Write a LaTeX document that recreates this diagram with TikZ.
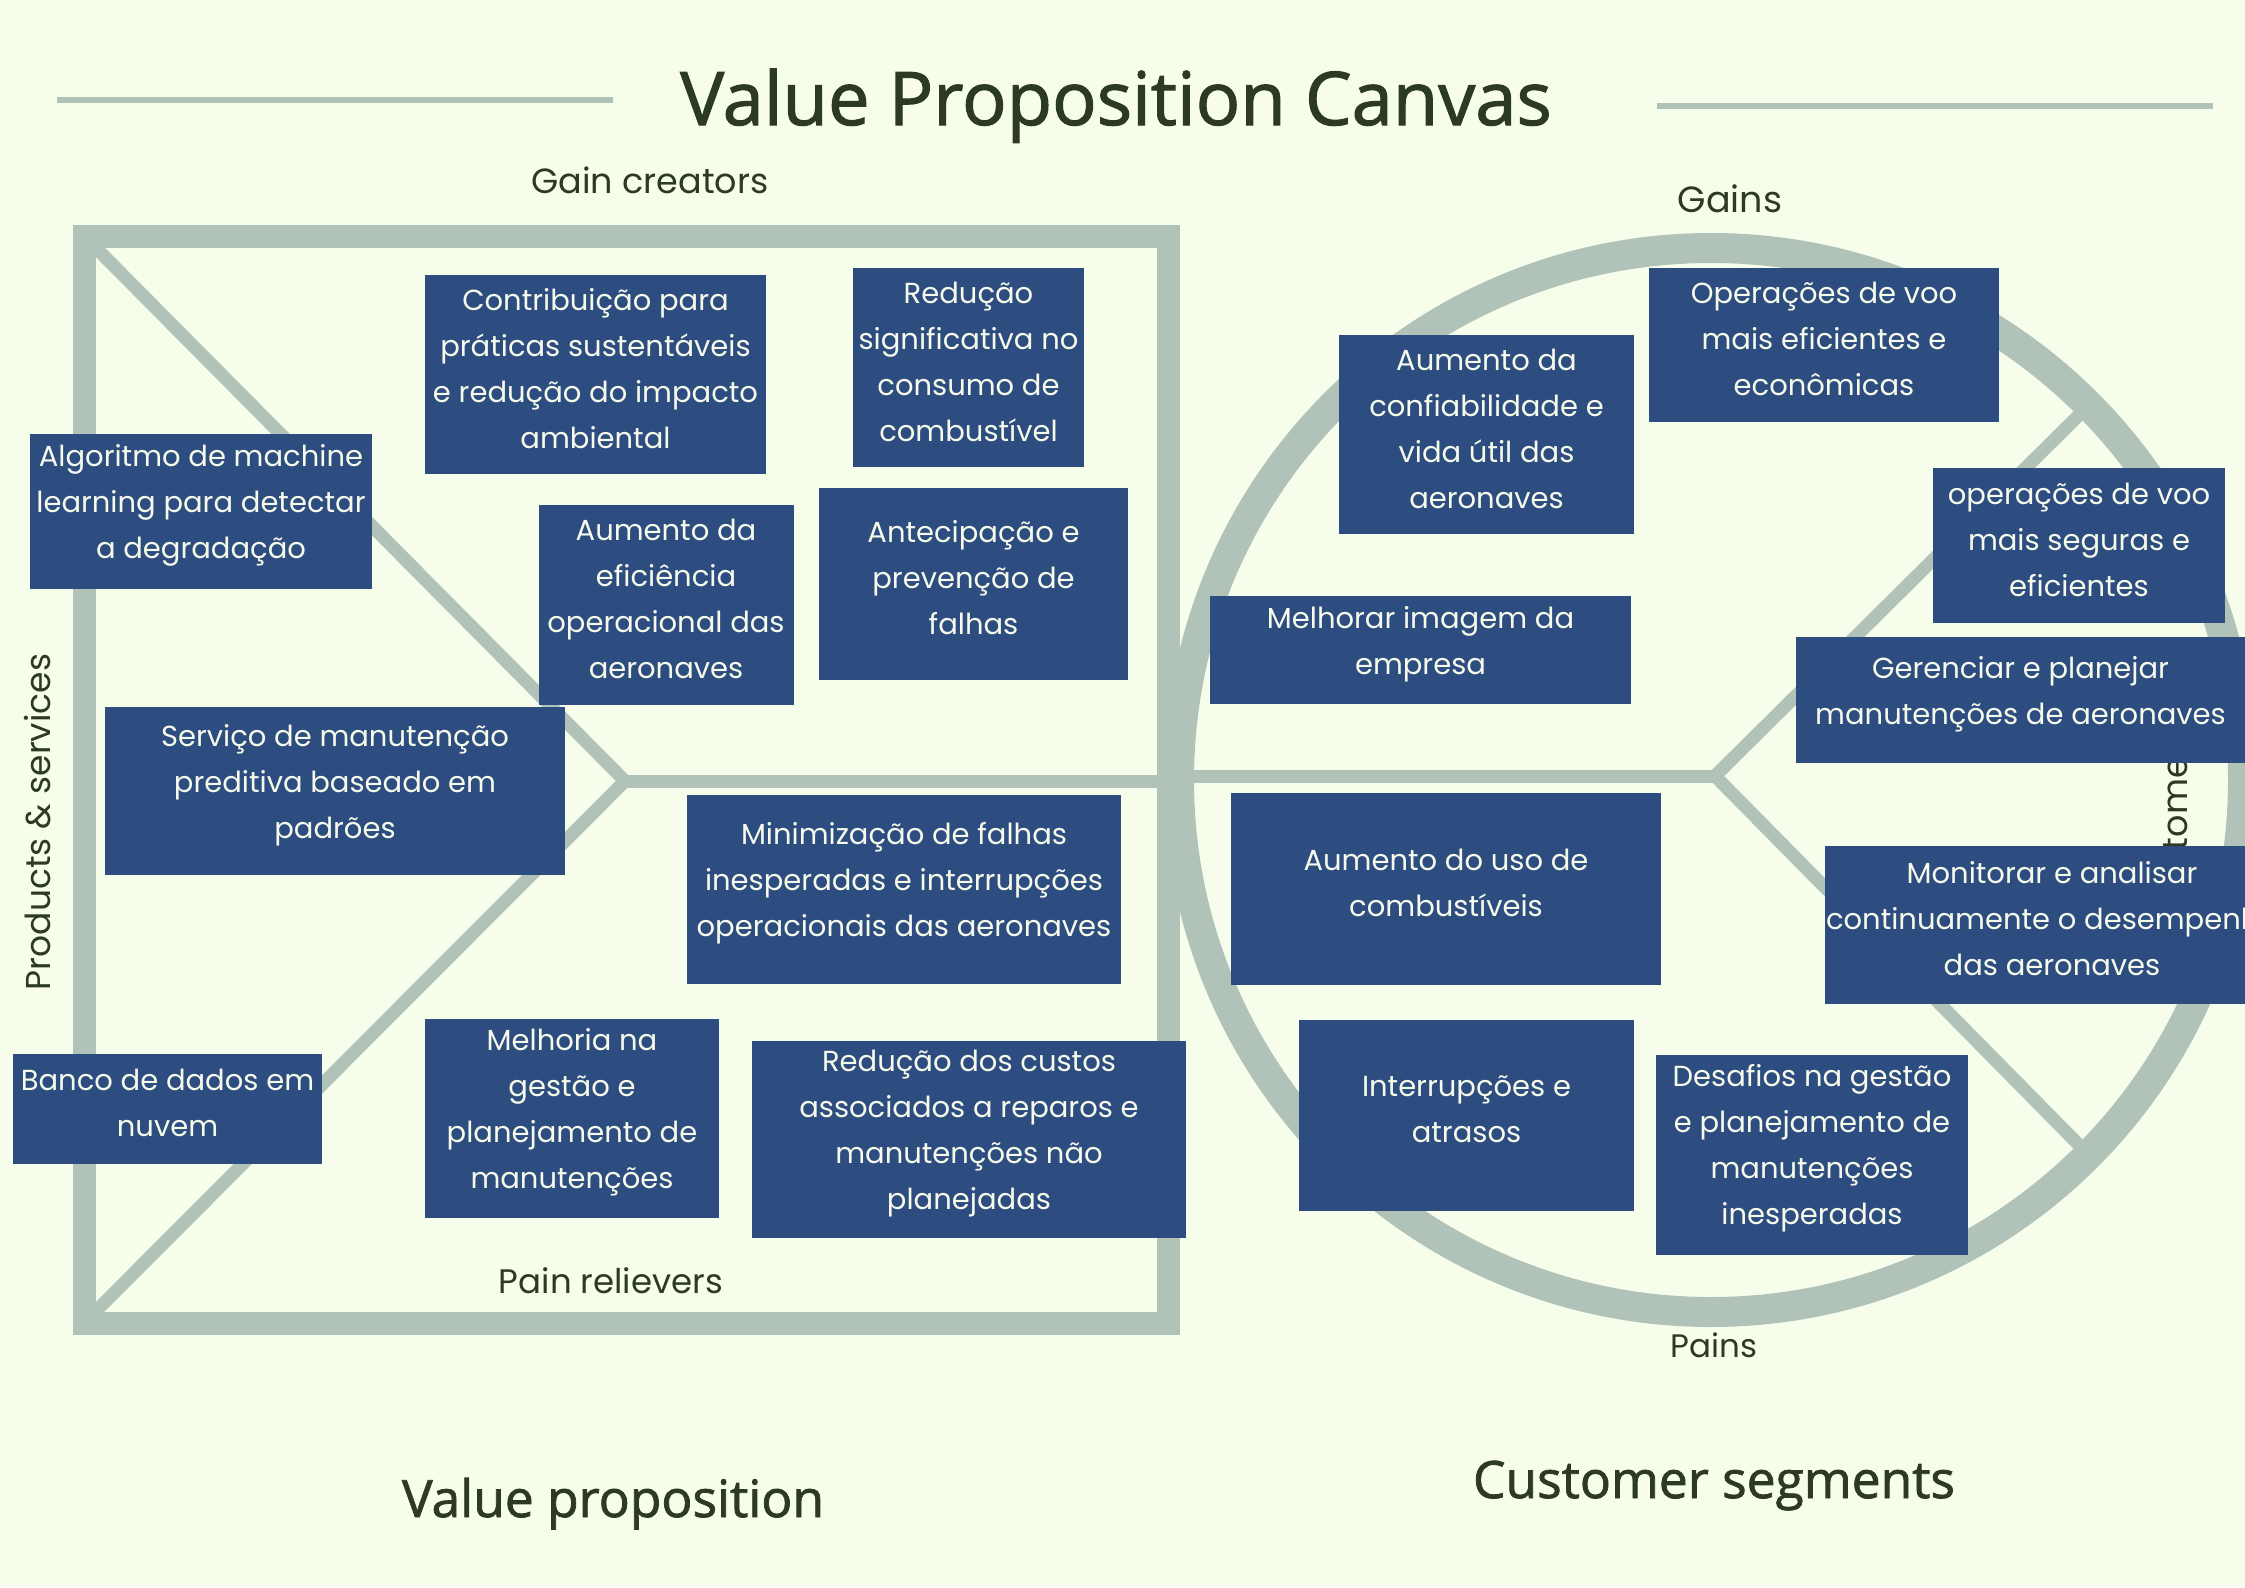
\documentclass[tikz,border=0pt]{standalone}
\usepackage{fontspec}
\setmainfont{Poppins}
\newfontfamily\headfont[FakeBold=1.5]{Open Sans}
\definecolor{bg}{HTML}{F6FDEB}
\definecolor{ln}{HTML}{B1C2B8}
\definecolor{bx}{HTML}{2D4C80}
\definecolor{bt}{HTML}{F5FAEA}
\definecolor{hd}{HTML}{2C3A25}
\newcommand\vpb[6]{%
  \node[vbox,minimum width=#4pt,minimum height=#5pt] (#1) at (#2,#3) {};
  \node[vtext] (#1t) at ([yshift=6pt]#1.center) {#6};}
\begin{document}
\begin{tikzpicture}[x=1pt,y=-1pt,
  vbox/.style={fill=bx,draw=none,inner sep=0pt,anchor=center},
  vtext/.style={text=bt,align=center,font=\fontsize{29}{46}\selectfont,inner sep=0pt},
  lbl/.style={text=hd,font=\fontsize{35}{40}\selectfont,inner sep=0pt,anchor=base},
  head/.style={text=hd,font=\headfont\fontsize{51.5}{60}\selectfont,inner sep=0pt,anchor=base},
  framebar/.style={draw=ln,line width=23pt},
  innerln/.style={draw=ln,line width=13pt},
  ringln/.style={draw=ln,line width=30pt},
  titleln/.style={draw=ln,line width=6pt},
]
\fill[bg] (0,0) rectangle (2245,1587);
\useasboundingbox (0,0) rectangle (2245,1587);
\clip (0,0) rectangle (2245,1587);

% title
\node[head,font=\headfont\fontsize{74}{86}\selectfont] (title) at (1116,125) {Value Proposition Canvas};
\coordinate (tla) at (57,100); \coordinate (tlb) at (613,100);
\coordinate (tra) at (1657,106); \coordinate (trb) at (2213,106);
\draw[titleln] (tla) -- (tlb);
\draw[titleln] (tra) -- (trb);

% value proposition square
\coordinate (sq1) at (84.5,236); \coordinate (sq2) at (1168.5,1323);
\draw[framebar] (sq1) rectangle (sq2);
\coordinate (cTL) at (96,248); \coordinate (apex) at (625,781); \coordinate (cBL) at (96,1311);
\coordinate (sqR) at (1168,781);
\draw[innerln,line join=miter] (cTL) -- (apex) -- (cBL);
\draw[innerln] (apex) -- (sqR);

% customer circle
\coordinate (cc) at (1711,780);
\draw[ringln] (cc) circle[radius=532pt];
\coordinate (cL) at (1179,776); \coordinate (jn) at (1715,776);
\coordinate (gEnd) at (2079,415); \coordinate (pEnd) at (2079,1145);
\draw[innerln] (cL) -- (jn);
\draw[innerln,line join=miter] (gEnd) -- (jn) -- (pEnd);

% labels
\node[lbl] (gc) at (650,193) {Gain creators};
\node[lbl,font=\fontsize{34}{40}\selectfont] (pr) at (611,1293) {Pain relievers};
\node[lbl,font=\fontsize{34.5}{40}\selectfont,rotate=90] (ps) at (50,822) {Products \& services};
\node[lbl,font=\fontsize{36.5}{40}\selectfont] (gains) at (1730,212) {Gains};
\node[lbl,font=\fontsize{32.5}{40}\selectfont] (pains) at (1714,1357) {Pains};
\node[lbl,rotate=90,anchor=base west] (cj) at (2187,918) {Customer jobs};
\node[head] (vp) at (613,1517) {Value proposition};
\node[head] (cs) at (1714,1498) {Customer segments};

% boxes left
\vpb{b1}{595.5}{374.5}{341}{199}{Contribuição para\\práticas sustentáveis\\e redução do impacto\\ambiental}
\vpb{b2}{968.5}{367.5}{231}{199}{Redução\\significativa no\\consumo de\\combustível}
\vpb{b3}{201}{511}{342}{155}{Algoritmo de machine\\learning para detectar\\a degradação}
\vpb{b4}{666}{605}{255}{200}{Aumento da\\eficiência\\operacional das\\aeronaves}
\vpb{b5}{973.5}{584}{309}{192}{Antecipação e\\prevenção de\\falhas}
\vpb{b6}{335}{791}{460}{168}{Serviço de manutenção\\preditiva baseado em\\padrões}
\vpb{b7}{904}{889.5}{434}{189}{Minimização de falhas\\inesperadas e interrupções\\operacionais das aeronaves}
\vpb{b8}{167.5}{1109}{309}{110}{Banco de dados em\\nuvem}
\vpb{b9}{572}{1118.5}{294}{199}{Melhoria na\\gestão e\\planejamento de\\manutenções}
\vpb{b10}{969}{1139.5}{434}{197}{Redução dos custos\\associados a reparos e\\manutenções não\\planejadas}

% boxes right
\vpb{b11}{1486.5}{434.5}{295}{199}{Aumento da\\confiabilidade e\\vida útil das\\aeronaves}
\vpb{b12}{1824}{345}{350}{154}{Operações de voo\\mais eficientes e\\econômicas}
\vpb{b13}{2079}{545.5}{292}{155}{operações de voo\\mais seguras e\\eficientes}
\vpb{b14}{1420.5}{650}{421}{108}{Melhorar imagem da\\empresa}
\vpb{b15}{2020.5}{700}{449}{126}{Gerenciar e planejar\\manutenções de aeronaves}
\vpb{b16}{1446}{889}{430}{192}{Aumento do uso de\\combustíveis}
\vpb{b17}{2052}{925}{454}{158}{Monitorar e analisar\\continuamente o desempenho\\das aeronaves}
\vpb{b18}{1466.5}{1115}{335}{191}{Interrupções e\\atrasos}
\vpb{b19}{1812}{1154.5}{312}{200}{Desafios na gestão\\e planejamento de\\manutenções\\inesperadas}
\end{tikzpicture}
\end{document}
